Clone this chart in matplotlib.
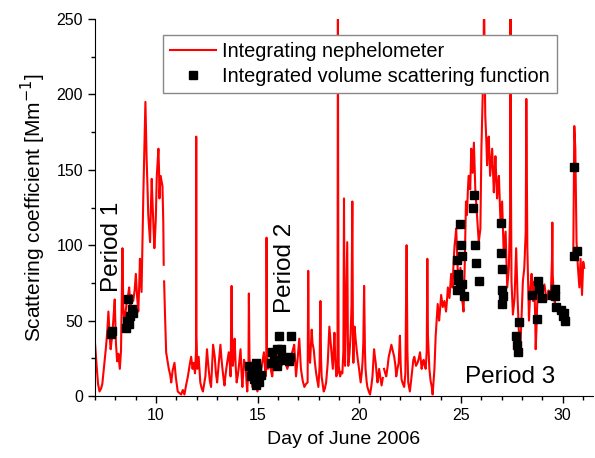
import matplotlib
matplotlib.use("Agg")
import matplotlib.pyplot as plt
import numpy as np
from matplotlib.ticker import MultipleLocator

plt.rcParams["font.family"] = ["Liberation Sans", "DejaVu Sans"]

# nephelometer record (day of June, Mm^-1); NaN marks gaps in the record
neph_day = [
    7.00, 7.08, 7.15, 7.22, 7.30, 7.36, 7.45, 7.53, 7.60, 7.66, 7.72, 7.77, 7.83, 7.90, 7.97,
    8.03, 8.09, 8.15, 8.22, 8.28, 8.35, 8.39, 8.43, 8.50, 8.55, 8.62, 8.68, 8.74, 8.80, 8.88,
    8.95, 9.01, 9.07, 9.13, 9.18, 9.21, 9.25, 9.29, 9.33, 9.38, 9.44, 9.48, 9.51, 9.54, 9.58,
    9.62, 9.66, 9.71, 9.75, 9.79, 9.83, 9.87, 9.92, 9.96, 9.99, 10.04, 10.08, 10.12, 10.15,
    10.17, 10.20, 10.23, 10.28, 10.32, 10.36, 10.38, np.nan,
    10.40, 10.44, 10.50, 10.56, 10.63, 10.70, 10.75, 10.82, 10.91, 10.98, 11.07, 11.15, 11.24,
    11.32, 11.40, 11.48, 11.57, 11.65, 11.73, 11.80, 11.85, 11.92, 11.97, 11.98, 11.99, 12.03,
    12.10, 12.18, 12.25, 12.31, 12.37, 12.43, 12.51, 12.55, 12.59, 12.65, 12.71, 12.76, 12.81,
    12.89, 12.95, 13.01, 13.09, 13.17, 13.22, 13.27, 13.32, 13.37, 13.43, 13.50, 13.58, 13.64,
    13.67, 13.72, 13.75, 13.78, 13.83, 13.87, 13.92, 13.97, 14.03, 14.08, 14.16, 14.21, 14.25,
    14.33, 14.41, 14.45, 14.49, 14.55, 14.57, 14.60, 14.66, 14.74, 14.82, 14.90, 14.99, 15.05,
    15.12, 15.18, 15.23, 15.31, 15.39, 15.43, 15.44, 15.46, 15.51, 15.61, 15.67, 15.72, 15.81,
    15.88, 15.94, 16.05, 16.12, 16.17, 16.24, 16.30, 16.38, 16.46, 16.55, 16.63, 16.72, 16.80,
    16.89, 16.97, 17.05, 17.13, 17.22, 17.30, 17.38, 17.46, 17.49, 17.52, 17.58, 17.66, 17.70,
    17.76, 17.82, 17.88, 17.94, 17.99, 18.05, 18.09, 18.12, 18.15, 18.25, 18.31, 18.37, 18.45,
    18.53, 18.58, 18.62, 18.70, 18.78, 18.82, 18.87, 18.93, 18.95, 18.97, 18.99, 19.06, 19.12,
    19.17, 19.22, 19.25, 19.28, 19.30, 19.36, 19.41, 19.44, 19.46, 19.52, 19.58, 19.62, 19.66,
    19.69, 19.71, 19.77, 19.82, 19.87, 19.93, 19.99, 20.07, 20.12, 20.16, 20.20, 20.24, 20.28,
    20.31, 20.36, 20.40, 20.47, 20.53, 20.59, 20.65, 20.73, 20.77, 20.81, 20.86, 20.90, 20.98,
    21.04, 21.10, 21.16, np.nan,
    21.22, 21.28, 21.33, 21.40, 21.45, 21.52, 21.58, 21.65, 21.72, 21.78, 21.82, 21.88, 21.94,
    22.00, 22.04, 22.08, 22.15, 22.21, 22.27, 22.33, 22.37, 22.41, 22.49, 22.55, 22.61, 22.66,
    22.71, 22.79, 22.87, 22.93, 22.99, 23.07, 23.12, 23.17, 23.22, 23.27, 23.32, 23.35, 23.38,
    23.45, 23.51, 23.57, 23.61, 23.66, 23.70, 23.76, 23.81, 23.86, 23.93, 23.98, 24.03, 24.11,
    24.19, 24.27, 24.32, 24.36, 24.44, 24.52, 24.59, 24.64, 24.69, 24.73, 24.77, 24.84, 24.90,
    24.92, 24.98, 25.05, 25.10, 25.13, 25.18, 25.25, 25.30, 25.34, 25.38, 25.46, 25.51, 25.58,
    25.64, 25.68, 25.71, 25.79, 25.85, 25.88, 25.96, 26.01, 26.07, 26.12, 26.14, 26.17, 26.20,
    26.25, 26.29, 26.33, 26.37, 26.44, 26.49, 26.54, 26.58, 26.62, 26.66, 26.70, 26.78, 26.83,
    26.87, 26.95, 27.03, 27.11, 27.20, 27.28, 27.36, 27.42, 27.44, 27.46, 27.49, 27.56, 27.64,
    27.72, 27.79, 27.86, 27.92, 27.99, 28.05, 28.12, 28.19, 28.22, 28.25, 28.27, 28.35, 28.42,
    28.48, 28.55, 28.61, 28.66, 28.68, 28.72, 28.75, 28.81, 28.87, 28.93, 29.04, 29.11, 29.18,
    29.25, 29.31, 29.38, 29.42, 29.48, 29.50, 29.52, 29.57, 29.62, 29.67, np.nan,
    30.53, 30.56, 30.58, 30.63, 30.66, 30.69, 30.76, 30.83, 30.89, 30.96, 31.02, 31.07,
]
neph_val = [
    35, 20, 8, 3, 5, 8, 20, 31, 42, 56, 40, 31, 38, 50, 64,
    35, 23, 28, 18, 30, 98, 60, 50, 55, 61, 66, 72, 60, 67, 63,
    70, 81, 66, 56, 75, 91, 80, 69, 100, 135, 170, 195, 175, 157, 140,
    120, 112, 102, 125, 144, 128, 115, 98, 108, 117, 146, 155, 164, 150,
    131, 140, 146, 142, 139, 115, 87, np.nan,
    76, 56, 29, 24, 18, 14, 9, 17, 22, 12, 3, 2, 1,
    4, 1, 7, 13, 20, 26, 18, 22, 15, 30, 172, 40, 18,
    26, 9, 5, 3, 8, 13, 31, 24, 18, 10, 6, 20, 34,
    26, 15, 9, 22, 34, 25, 18, 12, 7, 15, 22, 29, 20,
    13, 73, 30, 20, 28, 38, 20, 9, 14, 20, 31, 15, 6,
    24, 20, 10, 3, 20, 68, 25, 18, 6, 20, 9, 3, 8,
    13, 18, 22, 29, 13, 20, 105, 30, 18, 22, 16, 13, 29,
    22, 18, 31, 25, 20, 24, 29, 22, 18, 22, 26, 30, 34,
    13, 25, 38, 18, 10, 6, 8, 9, 83, 30, 22, 44, 35,
    31, 22, 15, 10, 6, 20, 63, 25, 13, 3, 5, 9, 22,
    46, 38, 31, 18, 42, 25, 13, 15, 265, 85, 20, 13, 16,
    15, 30, 131, 40, 20, 63, 102, 40, 20, 28, 42, 60, 129,
    40, 22, 46, 38, 31, 24, 18, 9, 15, 22, 35, 73, 30,
    18, 10, 6, 3, 1, 6, 13, 31, 26, 22, 14, 9, 18,
    12, 7, 12, np.nan,
    18, 15, 13, 20, 26, 30, 34, 30, 26, 20, 13, 18, 22,
    40, 20, 11, 8, 6, 15, 100, 30, 9, 3, 10, 18, 24,
    26, 20, 22, 25, 29, 18, 22, 24, 20, 18, 30, 91, 40,
    18, 10, 6, 1, 10, 18, 40, 50, 61, 50, 58, 67, 59,
    63, 56, 64, 72, 65, 81, 72, 88, 100, 105, 111, 85, 76,
    72, 85, 65, 60, 56, 81, 129, 120, 135, 146, 137, 164, 148,
    168, 150, 137, 120, 108, 102, 111, 164, 197, 230, 270, 220, 186,
    170, 153, 165, 172, 146, 155, 164, 150, 135, 148, 159, 131, 140,
    146, 115, 129, 93, 109, 72, 85, 120, 270, 150, 76, 54, 65,
    98, 65, 40, 31, 54, 76, 85, 109, 197, 140, 98, 50, 72,
    81, 63, 76, 50, 31, 45, 59, 76, 72, 67, 70, 74, 67,
    64, 70, 68, 65, 90, 115, 80, 67, 62, 65, np.nan,
    93, 150, 179, 164, 130, 102, 85, 72, 91, 67, 89, 85,
]

# integrated volume scattering function samples
ivsf_day = [
    7.81, 7.86, 8.52, 8.57, 8.62, 8.66, 8.70, 8.80, 8.86,
    14.57, 14.66, 14.74, 14.82, 14.90, 14.92, 14.99, 15.07, 15.15,
    15.65, 15.73, 15.81, 15.94, 15.97, 16.05, 16.10, 16.14, 16.22, 16.55, 16.60, 16.64,
    24.80, 24.80, 24.85, 24.88, 24.97, 24.97, 25.00, 25.05, 25.05, 25.13,
    25.60, 25.63, 25.71, 25.76, 25.88,
    26.95, 26.98, 27.00, 27.03, 27.06, 27.03, 27.72, 27.74, 27.79, 27.86,
    28.48, 28.76, 28.81, 28.85, 28.98,
    29.47, 29.64, 29.64, 29.70, 29.92, 30.00, 30.08, 30.12,
    30.55, 30.58, 30.71,
]
ivsf_val = [
    41, 43, 45, 50, 64, 48, 53, 58, 55,
    20, 13, 16, 11, 22, 7, 18, 9, 14,
    22, 29, 24, 31, 20, 40, 24, 31, 26, 23, 26, 40,
    90, 70, 81, 77, 114, 71, 100, 93, 74, 66,
    125, 133, 100, 88, 76,
    115, 95, 84, 70, 66, 61, 40, 34, 29, 49,
    67, 51, 76, 71, 65,
    67, 71, 66, 59, 57, 53, 55, 50,
    93, 152, 96,
]

periods = ["Period 1", "Period 2", "Period 3"]


def main() -> None:
    fig = plt.figure(figsize=(5.95, 4.58), dpi=100)
    ax = fig.add_axes([95 / 595, 62 / 458, 498 / 595, 377 / 458])

    ax.plot(neph_day, neph_val, color="#ff0000", lw=1.5, label="Integrating nephelometer")
    ax.plot(ivsf_day, ivsf_val, ls="none", marker="s", ms=6, color="black",
            label="Integrated volume scattering function", zorder=3)

    ax.set_xlim(7, 31.5)
    ax.set_ylim(0, 250)
    ax.xaxis.set_major_locator(MultipleLocator(5))
    ax.xaxis.set_minor_locator(MultipleLocator(1))
    ax.yaxis.set_major_locator(MultipleLocator(50))
    ax.yaxis.set_minor_locator(MultipleLocator(25))
    ax.tick_params(which="major", direction="out", length=5, width=1, labelsize=11.5)
    ax.tick_params(which="minor", direction="out", length=3, width=1)
    for side in ("top", "right"):
        ax.spines[side].set_visible(False)

    ax.set_xlabel("Day of June 2006", fontsize=14, labelpad=6)
    ax.set_ylabel("Scattering coefficient [Mm$^{-1}$]", fontsize=15, labelpad=6)

    ax.text(7.82, 99, periods[0], rotation=90, ha="center", va="center", fontsize=17.5)
    ax.text(16.36, 85, periods[1], rotation=90, ha="center", va="center", fontsize=17.5)
    ax.text(27.42, 8.6, periods[2], ha="center", va="baseline", fontsize=17.5)

    leg = ax.legend(loc="upper left", bbox_to_anchor=(0.1365, 0.958), borderaxespad=0,
                    fontsize=14.4, fancybox=False, framealpha=1, edgecolor="#888888",
                    handlelength=2.3, handletextpad=0.3, labelspacing=0.3, borderpad=0.35)
    leg.get_frame().set_linewidth(1.0)

    fig.savefig("out.png", dpi=100)


if __name__ == "__main__":
    main()
